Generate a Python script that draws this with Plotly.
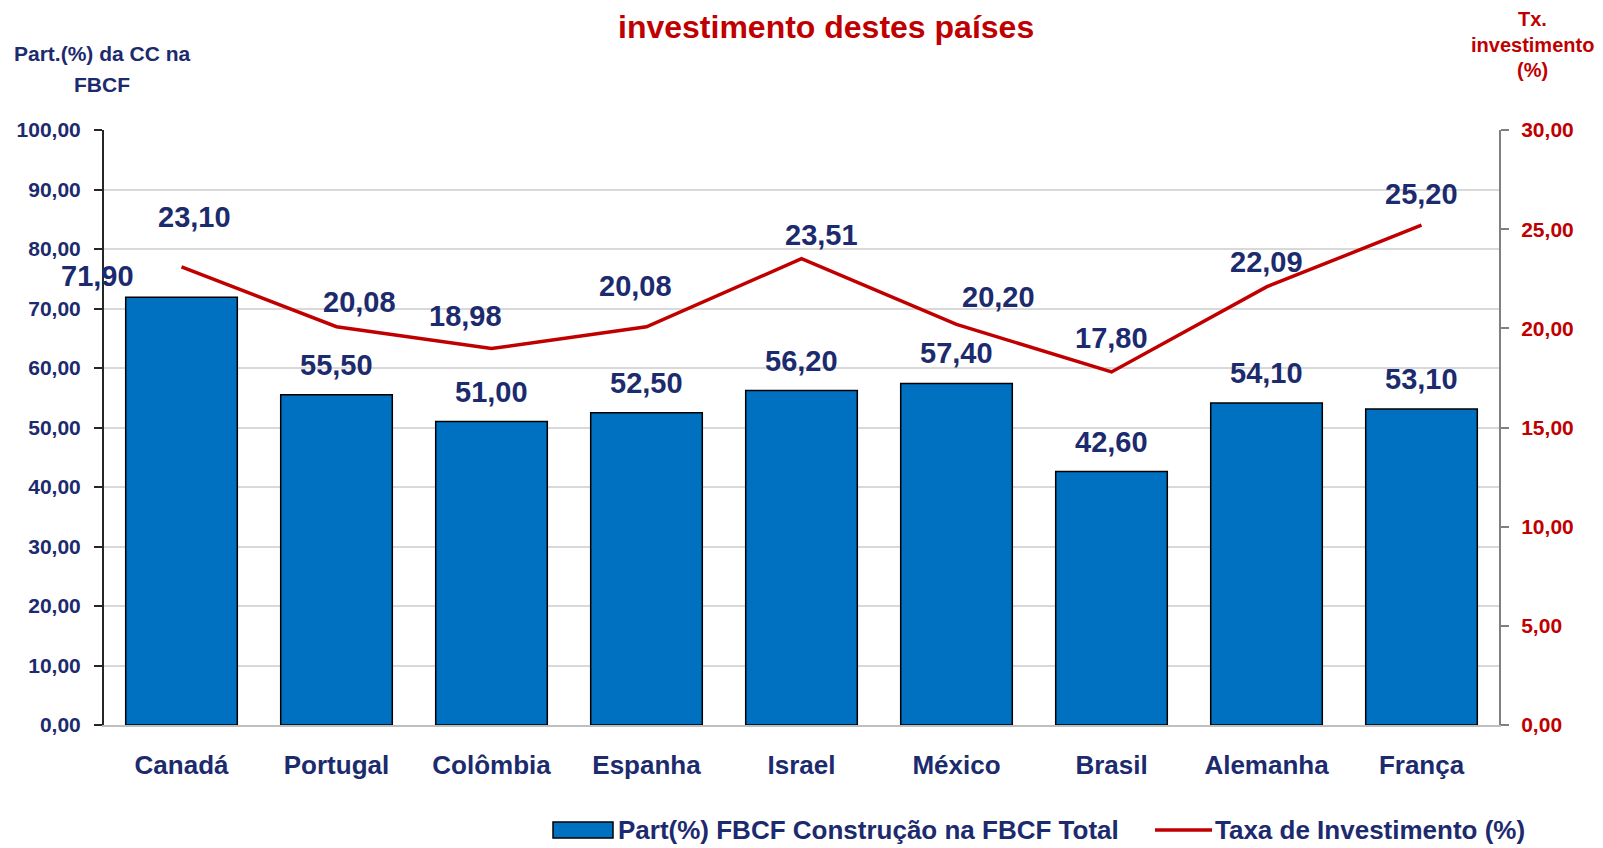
import plotly.graph_objects as go

# dados
paises = ['Canadá', 'Portugal', 'Colômbia', 'Espanha', 'Israel', 'México', 'Brasil', 'Alemanha', 'França']
part_construcao = [71.90, 55.50, 51.00, 52.50, 56.20, 57.40, 42.60, 54.10, 53.10]
taxa_investimento = [23.10, 20.08, 18.98, 20.08, 23.51, 20.20, 17.80, 22.09, 25.20]
nome_barras = 'Part(%) FBCF Construção na FBCF Total'
nome_linha = 'Taxa de Investimento (%)'

NAVY = '#1c2a6e'
RED = '#c00000'
BLUE = '#0070c0'
FONT = 'Liberation Sans, Arial, sans-serif'

# a pagina tem 8px de margem no body: figura um pouco menor e deslocada
OFF = 8
W, H = 1603 - OFF, 848 - OFF
L, T = 104 - OFF, 130 - OFF
R, B = W - (1499 - OFF), H - (725 - OFF)
PW, PH = W - L - R, H - T - B

def px(x, y):
    # pixel da pagina (topo/esquerda) -> coordenadas paper
    return (x - OFF - L) / PW, (H - (y - OFF) - B) / PH

def fmt(v):
    return f'{v:.2f}'.replace('.', ',')

bar_trace = go.Bar(name=nome_barras, x=paises, y=part_construcao,
                   marker=dict(color=BLUE, line=dict(color='black', width=1.5)), hoverinfo='x+y')
line_trace = go.Scatter(name=nome_linha, x=paises, y=taxa_investimento, yaxis='y2',
                        mode='lines', line=dict(color=RED, width=3.5))

# rotulos (posicoes manuais como no original)
line_dx = [13, 23, -26, -11, 20, 42, 0, 0, 0]
line_dy = [50, 25, 33, 41, 24, 27, 34, 25, 31]
lbl_font = dict(family=FONT, size=29, color=NAVY, weight='bold')
annots = []
for i, (p, v) in enumerate(zip(paises, part_construcao)):
    dx = -84 if i == 0 else 0
    dy = 21 if i == 0 else 30
    annots.append(dict(x=p, y=v, xref='x', yref='y', text=fmt(v), showarrow=False,
                       xanchor='center', yanchor='middle',
                       xshift=dx, yshift=dy, font=lbl_font))
for i, (p, v) in enumerate(zip(paises, taxa_investimento)):
    annots.append(dict(x=p, y=v, xref='x', yref='y2', text=fmt(v), showarrow=False,
                       xanchor='center', yanchor='middle',
                       xshift=line_dx[i], yshift=line_dy[i], font=lbl_font))

def txt(xp, yp, text, size, color, xanchor='center'):
    x, y = px(xp, yp)
    annots.append(dict(x=x, y=y, xref='paper', yref='paper', text=text, showarrow=False,
                       xanchor=xanchor, yanchor='middle', align='center',
                       font=dict(family=FONT, size=size, color=color)))

txt(826, 27, '<b>investimento destes países</b>', 32, RED)
txt(102, 53, '<b>Part.(%) da CC na</b>', 21, NAVY)
txt(102, 84, '<b>FBCF</b>', 21, NAVY)
txt(1532, 19, '<b>Tx.</b>', 20, RED)
txt(1532, 45, '<b>investimento</b>', 20, RED)
txt(1532, 70, '<b>(%)</b>', 20, RED)

# legenda desenhada a mao
shapes = []
x0, y0 = px(553, 822)
x1, y1 = px(613, 838)
shapes.append(dict(type='rect', xref='paper', yref='paper', x0=x0, y0=y0, x1=x1, y1=y1,
                   fillcolor=BLUE, line=dict(color='black', width=1.5)))
txt(616, 830, '<b>' + nome_barras + '</b>', 26, NAVY, xanchor='left')
x0, y0 = px(1155, 830)
x1, _ = px(1212, 830)
shapes.append(dict(type='line', xref='paper', yref='paper', x0=x0, y0=y0, x1=x1, y1=y0,
                   line=dict(color=RED, width=3.5)))
txt(1213, 830, '<b>' + nome_linha + '</b>', 26, NAVY, xanchor='left')

fig_layout = go.Layout(
    width=W, height=H, margin=dict(l=L, r=R, t=T, b=B, autoexpand=False),
    paper_bgcolor='white', plot_bgcolor='white', separators=',.',
    bargap=0.28, showlegend=False,
    xaxis=dict(range=[-0.5, len(paises) - 0.5], showline=True, linecolor='#bfbfbf', linewidth=1.5,
               ticks='', ticklabelstandoff=16, automargin=False,
               tickfont=dict(family=FONT, size=26, color=NAVY, weight='bold')),
    yaxis=dict(range=[0, 100], dtick=10, tickformat='.2f', showgrid=True, gridcolor='#d9d9d9', gridwidth=1.5,
               showline=True, linecolor='#262626', linewidth=2, ticks='outside', ticklen=8, tickcolor='#262626',
               tickwidth=2, zeroline=False, ticklabelstandoff=9, automargin=False,
               tickfont=dict(family=FONT, size=21, color=NAVY, weight='bold')),
    yaxis2=dict(range=[0, 30], dtick=5, tickformat='.2f', overlaying='y', side='right', showgrid=False,
                showline=True, linecolor='#808080', linewidth=2, ticks='outside', ticklen=8, tickcolor='#808080',
                tickwidth=2, zeroline=False, ticklabelstandoff=8, automargin=False,
                tickfont=dict(family=FONT, size=21, color=RED, weight='bold')),
    annotations=annots,
    shapes=shapes,
)
fig = go.Figure(data=[bar_trace, line_trace], layout=fig_layout)
fig.write_html('out.html')
